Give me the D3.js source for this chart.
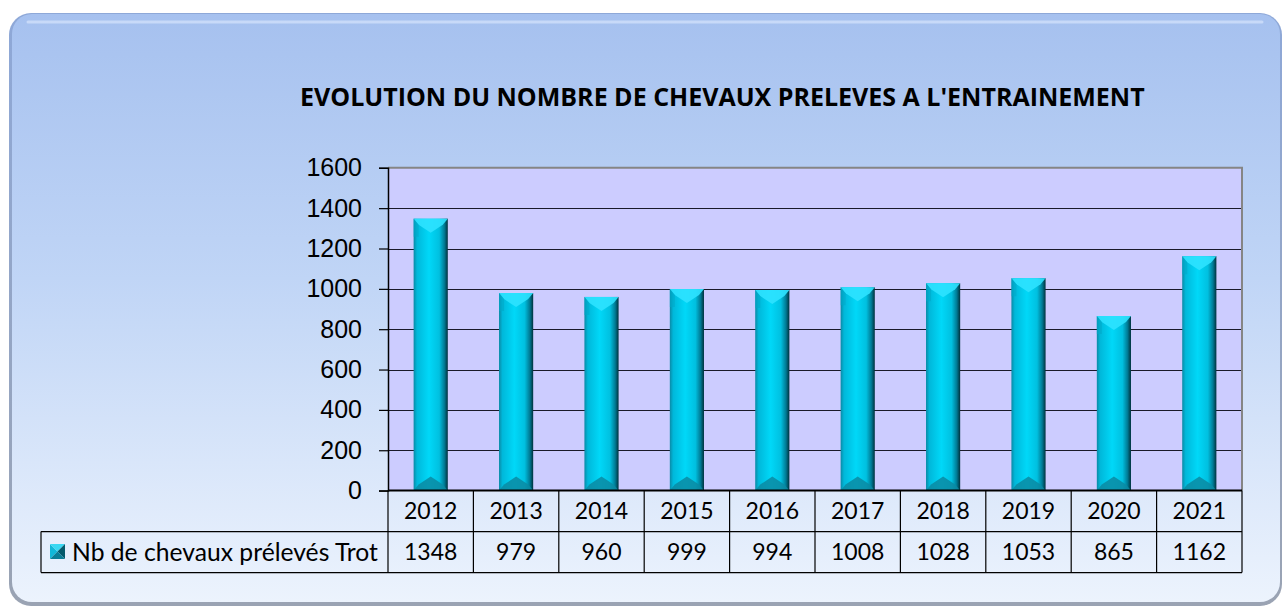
<!DOCTYPE html>
<html>
<head>
<meta charset="utf-8">
<script src="https://cdn.jsdelivr.net/npm/d3@7"></script>
<style>
    body { margin: 0; background: #ffffff; }
    svg { display: block; }
</style>
</head>
<body>
<div id="chart"></div>
<script>
var years = ["2012", "2013", "2014", "2015", "2016", "2017", "2018", "2019", "2020", "2021"];
var values = [1348, 979, 960, 999, 994, 1008, 1028, 1053, 865, 1162];
var seriesName = "Nb de chevaux prélevés Trot";
var chartTitle = "EVOLUTION DU NOMBRE DE CHEVAUX PRELEVES A L'ENTRAINEMENT";
var yMax = 1600;

var width = 1282,
    height = 608;

var plotLeft = 388, plotRight = 1242, plotTop = 167.8, plotBottom = 490.6;
var tableLeft = 41, rowH = 41;

var svg = d3.select("#chart").append("svg")
    .attr("width", width)
    .attr("height", height);

var defs = svg.append("defs");

// card background
var bgGrad = defs.append("linearGradient").attr("id", "bgGrad")
    .attr("x1", 0).attr("y1", 0).attr("x2", 0).attr("y2", 1);
bgGrad.append("stop").attr("offset", "0%").attr("stop-color", "#a6c1ef");
bgGrad.append("stop").attr("offset", "45%").attr("stop-color", "#c0d5f6");
bgGrad.append("stop").attr("offset", "100%").attr("stop-color", "#ecf3fd");

var edgeGrad = defs.append("linearGradient").attr("id", "edgeGrad")
    .attr("x1", 0).attr("y1", 0).attr("x2", 0).attr("y2", 1);
edgeGrad.append("stop").attr("offset", "0%").attr("stop-color", "#8ea8d8");
edgeGrad.append("stop").attr("offset", "100%").attr("stop-color", "#9aa3b3");

svg.append("rect")
    .attr("x", 9).attr("y", 13)
    .attr("width", 1273).attr("height", 593)
    .attr("rx", 22)
    .attr("fill", "url(#edgeGrad)");

svg.append("rect")
    .attr("x", 12).attr("y", 14)
    .attr("width", 1268).attr("height", 588)
    .attr("rx", 20)
    .attr("fill", "url(#bgGrad)");

// top glossy highlight
svg.append("line")
    .attr("x1", 28).attr("x2", 1262)
    .attr("y1", 22).attr("y2", 22)
    .attr("stroke", "#dfeaff")
    .attr("stroke-width", 3)
    .attr("stroke-linecap", "round")
    .attr("opacity", 0.6);

// title
var title = svg.append("text")
    .attr("x", 300)
    .attr("y", 106)
    .attr("font-family", "'Open Sans', Lato, sans-serif")
    .attr("font-weight", "bold")
    .attr("font-size", 24)
    .attr("fill", "#000")
    .text(chartTitle);
fitText(title, 845);

// scales
var x = d3.scaleBand()
    .domain(years)
    .range([plotLeft, plotRight])
    .paddingInner(0.6)
    .paddingOuter(0.3);

var y = d3.scaleLinear()
    .domain([0, yMax])
    .range([plotBottom, plotTop]);

// plot area
svg.append("rect")
    .attr("x", plotLeft).attr("y", plotTop)
    .attr("width", plotRight - plotLeft)
    .attr("height", plotBottom - plotTop)
    .attr("fill", "#ccccff");

svg.selectAll(".grid")
    .data(y.ticks(8).filter(function (d) { return d > 0 && d < yMax; }))
    .enter()
    .append("line")
    .attr("class", "grid")
    .attr("x1", plotLeft).attr("x2", plotRight)
    .attr("y1", function (d) { return Math.round(y(d)) + 0.5; })
    .attr("y2", function (d) { return Math.round(y(d)) + 0.5; })
    .attr("stroke", "#1a1a2a")
    .attr("stroke-width", 1.2);

// top & right border of plot
svg.append("path")
    .attr("d", "M" + plotLeft + "," + plotTop + "H" + plotRight + "V" + plotBottom)
    .attr("fill", "none")
    .attr("stroke", "#858585")
    .attr("stroke-width", 2);

// bar gradients
var bodyGrad = defs.append("linearGradient").attr("id", "bodyGrad")
    .attr("x1", 0).attr("y1", 0).attr("x2", 1).attr("y2", 0);
bodyGrad.append("stop").attr("offset", "0%").attr("stop-color", "#0a8aa6");
bodyGrad.append("stop").attr("offset", "10%").attr("stop-color", "#00b8da");
bodyGrad.append("stop").attr("offset", "45%").attr("stop-color", "#00d8f8");
bodyGrad.append("stop").attr("offset", "75%").attr("stop-color", "#00c0e0");
bodyGrad.append("stop").attr("offset", "90%").attr("stop-color", "#007a94");
bodyGrad.append("stop").attr("offset", "100%").attr("stop-color", "#00313c");

var bevel = 14;

var bars = svg.selectAll(".bar")
    .data(values)
    .enter()
    .append("g")
    .attr("class", "bar");

bars.append("rect")
    .attr("x", function (d, i) { return x(years[i]); })
    .attr("y", function (d) { return y(d); })
    .attr("width", x.bandwidth())
    .attr("height", function (d) { return y(0) - y(d); })
    .attr("fill", "url(#bodyGrad)");

// top bevel (light chevron)
bars.append("path")
    .attr("d", function (d, i) {
        var x0 = x(years[i]), x1 = x0 + x.bandwidth(), xc = (x0 + x1) / 2, t = y(d);
        return "M" + x0 + "," + t + "L" + x1 + "," + t + "L" + (x1 - 5) + "," + (t + 6) +
            "L" + xc + "," + (t + bevel) + "L" + (x0 + 5) + "," + (t + 6) + "Z";
    })
    .attr("fill", "#2ee2ff")
    .attr("opacity", 0.9);

bars.append("path")
    .attr("d", function (d, i) {
        var x0 = x(years[i]), t = y(d);
        return "M" + x0 + "," + t + "L" + (x0 + 5) + "," + (t + 6) + "L" + (x0 + 5) + "," + (t + 18) + "L" + x0 + "," + (t + 18) + "Z";
    })
    .attr("fill", "#00a8c8")
    .attr("opacity", 0.6);

// bottom bevel (darker)
bars.append("path")
    .attr("d", function (d, i) {
        var x0 = x(years[i]), x1 = x0 + x.bandwidth(), xc = (x0 + x1) / 2, b = y(0);
        return "M" + x0 + "," + b + "L" + x1 + "," + b + "L" + (x1 - 5) + "," + (b - 6) +
            "L" + xc + "," + (b - bevel) + "L" + (x0 + 5) + "," + (b - 6) + "Z";
    })
    .attr("fill", "#0a8aa2")
    .attr("opacity", 0.85);

// y axis
var yAxis = d3.axisLeft(y)
    .ticks(8)
    .tickFormat(d3.format("d"))
    .tickSize(9)
    .tickPadding(17);

var yAxisG = svg.append("g")
    .attr("transform", "translate(" + plotLeft + ",0)")
    .call(yAxis);

yAxisG.select(".domain").attr("stroke", "#000").attr("stroke-width", 1.5);
yAxisG.selectAll(".tick line").attr("stroke", "#000").attr("stroke-width", 1.2);
yAxisG.selectAll(".tick text")
    .attr("font-family", "'Liberation Sans', Arial, sans-serif")
    .attr("font-size", 25)
    .attr("fill", "#000");

// data table
var table = svg.append("g").attr("class", "table");
var row1 = plotBottom, row2 = plotBottom + rowH, row3 = plotBottom + 2 * rowH;

table.append("line")
    .attr("x1", plotLeft).attr("x2", plotRight)
    .attr("y1", row1).attr("y2", row1)
    .attr("stroke", "#000").attr("stroke-width", 2);

table.append("line")
    .attr("x1", tableLeft).attr("x2", plotRight)
    .attr("y1", row2).attr("y2", row2)
    .attr("stroke", "#000").attr("stroke-width", 1.2);

table.append("line")
    .attr("x1", tableLeft).attr("x2", plotRight)
    .attr("y1", row3).attr("y2", row3)
    .attr("stroke", "#000").attr("stroke-width", 1.2);

table.append("line")
    .attr("x1", tableLeft).attr("x2", tableLeft)
    .attr("y1", row2).attr("y2", row3)
    .attr("stroke", "#000").attr("stroke-width", 1.2);

var colEdges = years.map(function (yr) { return x(yr) - x.step() * x.paddingOuter(); });
colEdges.push(plotRight);

table.selectAll(".colLine")
    .data(colEdges)
    .enter()
    .append("line")
    .attr("class", "colLine")
    .attr("x1", function (d) { return d; })
    .attr("x2", function (d) { return d; })
    .attr("y1", row1).attr("y2", row3)
    .attr("stroke", "#000").attr("stroke-width", 1.2);

var tableFont = "Lato, 'Open Sans', sans-serif";

table.selectAll(".yearLabel")
    .data(years)
    .enter()
    .append("text")
    .attr("class", "yearLabel")
    .attr("x", function (d) { return x(d) + x.bandwidth() / 2; })
    .attr("y", row1 + rowH / 2)
    .attr("dy", "0.35em")
    .attr("text-anchor", "middle")
    .attr("font-family", tableFont)
    .attr("font-size", 23)
    .attr("fill", "#000")
    .text(function (d) { return d; });

table.selectAll(".valueLabel")
    .data(values)
    .enter()
    .append("text")
    .attr("class", "valueLabel")
    .attr("x", function (d, i) { return x(years[i]) + x.bandwidth() / 2; })
    .attr("y", row2 + rowH / 2)
    .attr("dy", "0.35em")
    .attr("text-anchor", "middle")
    .attr("font-family", tableFont)
    .attr("font-size", 23)
    .attr("fill", "#000")
    .text(function (d) { return d; });

// legend key (bevelled square)
var kx = 50, ky = 544, ks = 15, kc = ks / 2;
var key = table.append("g").attr("transform", "translate(" + kx + "," + ky + ")");
key.append("path").attr("d", "M0,0L" + kc + "," + kc + "L0," + ks + "Z").attr("fill", "#12b8d8");
key.append("path").attr("d", "M0,0L" + ks + ",0L" + kc + "," + kc + "Z").attr("fill", "#3ad8f2");
key.append("path").attr("d", "M" + ks + ",0L" + ks + "," + ks + "L" + kc + "," + kc + "Z").attr("fill", "#045a6c");
key.append("path").attr("d", "M0," + ks + "L" + ks + "," + ks + "L" + kc + "," + kc + "Z").attr("fill", "#0a7e96");

var legendText = table.append("text")
    .attr("x", 72)
    .attr("y", row2 + rowH / 2)
    .attr("dy", "0.35em")
    .attr("font-family", tableFont)
    .attr("font-size", 23)
    .attr("fill", "#000")
    .text(seriesName);
fitText(legendText, 306);

function fitText(sel, target) {
    var size = +sel.attr("font-size");
    var w = sel.node().getComputedTextLength();
    if (w > 0) {
        sel.attr("font-size", (size * target / w).toFixed(2));
    }
}
</script>
</body>
</html>
